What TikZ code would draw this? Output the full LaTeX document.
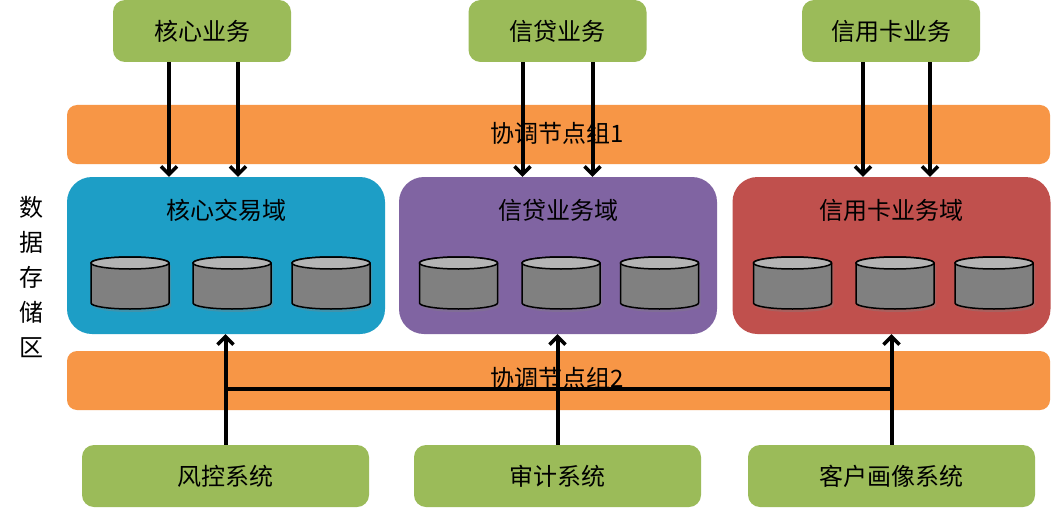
\documentclass[tikz,border=0pt]{standalone}
\usepackage{fontspec}
\newfontfamily\cjk{Noto Sans CJK SC}
\usetikzlibrary{arrows.meta,shadows}
\definecolor{mygreen}{HTML}{9BBB59}
\definecolor{myorange}{HTML}{F79646}
\definecolor{myblue}{HTML}{1D9EC6}
\definecolor{mypurple}{HTML}{8064A2}
\definecolor{myred}{HTML}{C0504D}
\definecolor{dbbody}{HTML}{808080}
\definecolor{dbtop}{HTML}{B4B4B4}
\begin{document}
\begin{tikzpicture}[x=1pt,y=-1pt,
  every node/.style={font=\cjk\fontsize{24}{28}\selectfont, inner sep=0pt, text=black},
  bizbox/.style={fill=mygreen, rounded corners=12pt, minimum width=178pt, minimum height=62pt},
  sysbox/.style={fill=mygreen, rounded corners=12pt, minimum width=287pt, minimum height=62pt},
  band/.style={fill=myorange, rounded corners=10pt, minimum width=983pt, minimum height=59pt},
  domainbox/.style={rounded corners=25pt, minimum width=318pt, minimum height=157pt},
  arr/.style={line width=4pt, -{Straight Barb[length=8pt,width=16pt,line width=3.5pt]},
    drop shadow={opacity=0.25, shadow xshift=1.5pt, shadow yshift=-1.5pt}},
  busline/.style={line width=3.5pt},
  dbshadow/.style={drop shadow={opacity=0.35, shadow xshift=2pt, shadow yshift=-3pt}}
]
\useasboundingbox (0,0) rectangle (1051,508);
\fill[white] (0,0) rectangle (1051,508);

% bands
\node[band] (band1) at (558.5,134.5) {};
\node[band] (band2) at (558.5,380.5) {};

% domains
\node[domainbox, fill=myblue]   (coredom) at (226,255.5) {};
\node[domainbox, fill=mypurple] (loandom) at (558,255.5) {};
\node[domainbox, fill=myred]    (carddom) at (891.5,255.5) {};
\node (coredomlbl) at (226,210) {核心交易域};
\node (loandomlbl) at (558,210) {信贷业务域};
\node (carddomlbl) at (891.5,210) {信用卡业务域};

% databases
\foreach \cx in {130,232,331,458.5,561,659.5,792.5,895,994}{
  \path[dbshadow, fill=dbbody, draw=black, line width=1.5pt]
    (\cx-39,263) -- (\cx-39,303) arc[start angle=180, end angle=360, x radius=39pt, y radius=6pt]
    -- (\cx+39,263) arc[start angle=0, end angle=180, x radius=39pt, y radius=6pt] -- cycle;
  \draw[fill=dbtop, line width=1.5pt] (\cx,263) ellipse [x radius=39pt, y radius=6pt];
}

% band labels
\node (band1lbl) at (557,133) {协调节点组1};
\node (band2lbl) at (557,378) {协调节点组2};

% top business boxes
\node[bizbox] (core) at (202,31) {\raisebox{-2pt}{核心业务}};
\node[bizbox] (loan) at (557.5,31) {\raisebox{-2pt}{信贷业务}};
\node[bizbox] (card) at (891,31) {\raisebox{-2pt}{信用卡业务}};

% bottom systems
\node[sysbox] (risk) at (225.5,476) {\raisebox{-2pt}{风控系统}};
\node[sysbox] (audit) at (557.5,476) {\raisebox{-2pt}{审计系统}};
\node[sysbox] (cust) at (891.5,476) {\raisebox{-2pt}{客户画像系统}};

% top arrows
\foreach \n/\d/\a/\b in {core/coredom/-33/36, loan/loandom/-35/35, card/carddom/-28/39}{
  \draw[arr] ([xshift=\a pt]\n.south) -- ([xshift=\a pt]\n.south |- \d.north);
  \draw[arr] ([xshift=\b pt]\n.south) -- ([xshift=\b pt]\n.south |- \d.north);
}

% bottom arrows
\coordinate (busL) at ([yshift=56pt]risk.north);
\draw[busline, drop shadow={opacity=0.25, shadow xshift=1.5pt, shadow yshift=-1.5pt}] (busL) -- (busL -| cust.north);
\draw[arr] (risk.north) -- (risk.north |- coredom.south);
\draw[arr] (audit.north) -- (audit.north |- loandom.south);
\draw[arr] (cust.north) -- (cust.north |- carddom.south);

% side label
\node[align=center, font=\cjk\fontsize{24}{35}\selectfont] (side) at (31,277) {数\\据\\存\\储\\区};
\end{tikzpicture}
\end{document}
